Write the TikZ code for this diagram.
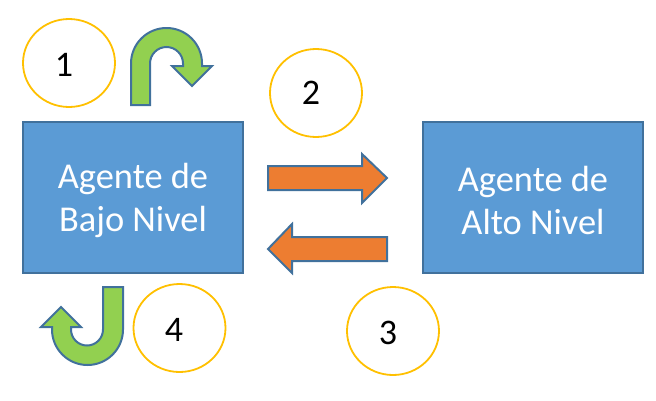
\documentclass[tikz,border=0pt]{standalone}
\usepackage{fontspec}
\setmainfont{Carlito}
\definecolor{boxblue}{HTML}{5B9BD5}
\definecolor{edgeblue}{HTML}{41719C}
\definecolor{ringgold}{HTML}{FFC000}
\definecolor{leafgreen}{HTML}{92D050}
\definecolor{blockorange}{HTML}{ED7D31}
\usetikzlibrary{shapes.geometric}
\tikzset{
  agentbox/.style={draw=edgeblue,line width=1.6pt,fill=boxblue,minimum width=220pt,minimum height=151pt,inner sep=0pt},
  agentlabel/.style={text=white,inner sep=0pt,align=center,font=\fontsize{36.4}{43}\selectfont},
  numring/.style={draw=ringgold,line width=1.8pt,fill=white,ellipse,minimum width=92pt,minimum height=88pt,inner sep=0pt},
  numlabel/.style={inner sep=0pt,font=\fontsize{36}{38}\selectfont},
  blockgreen/.style={draw=edgeblue,line width=2pt,fill=leafgreen,line join=miter},
  blockarrow/.style={draw=edgeblue,line width=2pt,fill=blockorange,line join=miter}
}
\begin{document}
\begin{tikzpicture}[x=1pt,y=-1pt]
\useasboundingbox (0,0) rectangle (656,400);
\node[agentbox] (low) at (133,197.5) {};
\node[agentbox] (high) at (533,197.5) {};
\node[agentlabel] (lowtext) at (133,200) {Agente de\\Bajo Nivel};
\node[agentlabel] (hightext) at (533,200) {Agente de\\Alto Nivel};
\node[numring] (n1) at (69,63) {};
\node[numring] (n2) at (316,93) {};
\node[numring] (n3) at (393,331) {};
\node[numring] (n4) at (179.5,328) {};
\node[numlabel] (t1) at (64,64.5) {1};
\node[numlabel] (t2) at (311,93) {2};
\node[numlabel] (t3) at (388,333) {3};
\node[numlabel] (t4) at (174,330) {4};
% U-turn 1
\draw[blockgreen] (131,105) -- (131,63.5) arc[start angle=180,end angle=360,radius=35.5] -- (202,66) -- (212,66) -- (192,86) -- (172,66) -- (183,66) -- (183,63.5) arc[start angle=360,end angle=180,radius=16.5] -- (150,105) -- cycle;
% U-turn 4
\draw[blockgreen] (123,287) -- (123,329.5) arc[start angle=0,end angle=180,radius=35.5] -- (52,327) -- (41,327) -- (61,307) -- (81,327) -- (71,327) -- (71,329.5) arc[start angle=180,end angle=0,radius=16] -- (103,287) -- cycle;
% straight arrows
\draw[blockarrow] (268,166) -- (362,166) -- (362,154) -- (387,178) -- (362,203) -- (362,190) -- (268,190) -- cycle;
\draw[blockarrow] (387,237) -- (292,237) -- (292,224) -- (268,249) -- (292,273) -- (292,261) -- (387,261) -- cycle;
\end{tikzpicture}
\end{document}
